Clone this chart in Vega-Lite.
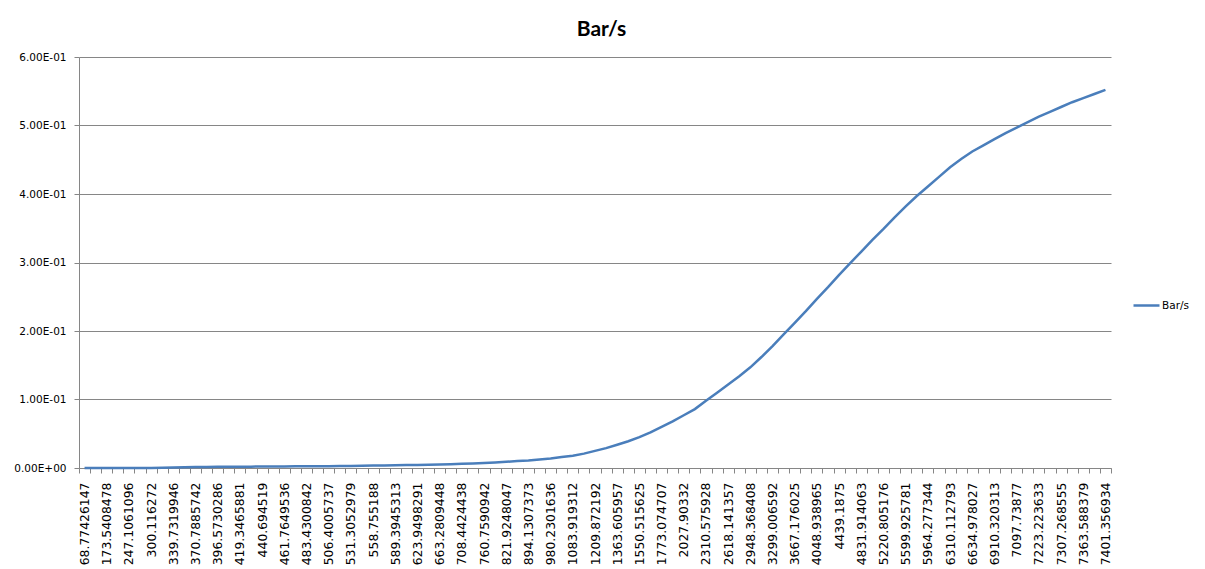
{
  "$schema": "https://vega.github.io/schema/vega-lite/v6.json",
  "autosize": "none",
  "width": 1032,
  "height": 411,
  "padding": {"left": 79, "top": 57, "right": 94, "bottom": 101},
  "background": "white",
  "title": {"text": "Bar/s", "font": "Lato", "fontSize": 21, "fontWeight": "bold", "color": "#000000", "anchor": "middle", "frame": "group", "baseline": "alphabetic", "offset": -4.5, "dx": 6.5},
  "config": {"view": {"stroke": null}},
  "data": {"values": [
    {"x": "68.77426147", "v": 0, "s": "Bar/s"},
    {"x": "128.4", "v": 0, "s": "Bar/s"},
    {"x": "173.5408478", "v": 0, "s": "Bar/s"},
    {"x": "212.3", "v": 0, "s": "Bar/s"},
    {"x": "247.1061096", "v": 0, "s": "Bar/s"},
    {"x": "275.2", "v": 0, "s": "Bar/s"},
    {"x": "300.116272", "v": 0, "s": "Bar/s"},
    {"x": "321.1", "v": 0.0003, "s": "Bar/s"},
    {"x": "339.7319946", "v": 0.0006, "s": "Bar/s"},
    {"x": "356.0", "v": 0.001, "s": "Bar/s"},
    {"x": "370.7885742", "v": 0.0014, "s": "Bar/s"},
    {"x": "384.2", "v": 0.0016, "s": "Bar/s"},
    {"x": "396.5730286", "v": 0.0017, "s": "Bar/s"},
    {"x": "408.1", "v": 0.0018, "s": "Bar/s"},
    {"x": "419.3465881", "v": 0.0019, "s": "Bar/s"},
    {"x": "430.1", "v": 0.002, "s": "Bar/s"},
    {"x": "440.694519", "v": 0.0021, "s": "Bar/s"},
    {"x": "451.2", "v": 0.0022, "s": "Bar/s"},
    {"x": "461.7649536", "v": 0.0023, "s": "Bar/s"},
    {"x": "472.5", "v": 0.0024, "s": "Bar/s"},
    {"x": "483.4300842", "v": 0.0025, "s": "Bar/s"},
    {"x": "494.7", "v": 0.0026, "s": "Bar/s"},
    {"x": "506.4005737", "v": 0.0027, "s": "Bar/s"},
    {"x": "518.6", "v": 0.0029, "s": "Bar/s"},
    {"x": "531.3052979", "v": 0.0031, "s": "Bar/s"},
    {"x": "544.7", "v": 0.0033, "s": "Bar/s"},
    {"x": "558.755188", "v": 0.0035, "s": "Bar/s"},
    {"x": "573.6", "v": 0.0037, "s": "Bar/s"},
    {"x": "589.3945313", "v": 0.004, "s": "Bar/s"},
    {"x": "606.2", "v": 0.0042, "s": "Bar/s"},
    {"x": "623.9498291", "v": 0.0045, "s": "Bar/s"},
    {"x": "643.1", "v": 0.0048, "s": "Bar/s"},
    {"x": "663.2809448", "v": 0.0052, "s": "Bar/s"},
    {"x": "685.3", "v": 0.0056, "s": "Bar/s"},
    {"x": "708.4424438", "v": 0.0061, "s": "Bar/s"},
    {"x": "733.9", "v": 0.0067, "s": "Bar/s"},
    {"x": "760.7590942", "v": 0.0074, "s": "Bar/s"},
    {"x": "790.2", "v": 0.0082, "s": "Bar/s"},
    {"x": "821.9248047", "v": 0.0091, "s": "Bar/s"},
    {"x": "856.8", "v": 0.0101, "s": "Bar/s"},
    {"x": "894.1307373", "v": 0.011, "s": "Bar/s"},
    {"x": "935.2", "v": 0.0125, "s": "Bar/s"},
    {"x": "980.2301636", "v": 0.014, "s": "Bar/s"},
    {"x": "1029.8", "v": 0.016, "s": "Bar/s"},
    {"x": "1083.919312", "v": 0.018, "s": "Bar/s"},
    {"x": "1144.6", "v": 0.021, "s": "Bar/s"},
    {"x": "1209.872192", "v": 0.025, "s": "Bar/s"},
    {"x": "1284.0", "v": 0.029, "s": "Bar/s"},
    {"x": "1363.605957", "v": 0.034, "s": "Bar/s"},
    {"x": "1454.1", "v": 0.039, "s": "Bar/s"},
    {"x": "1550.515625", "v": 0.045, "s": "Bar/s"},
    {"x": "1658.2", "v": 0.052, "s": "Bar/s"},
    {"x": "1773.074707", "v": 0.06, "s": "Bar/s"},
    {"x": "1897.1", "v": 0.068, "s": "Bar/s"},
    {"x": "2027.90332", "v": 0.077, "s": "Bar/s"},
    {"x": "2166.5", "v": 0.086, "s": "Bar/s"},
    {"x": "2310.575928", "v": 0.098, "s": "Bar/s"},
    {"x": "2462.3", "v": 0.11, "s": "Bar/s"},
    {"x": "2618.141357", "v": 0.122, "s": "Bar/s"},
    {"x": "2781.0", "v": 0.134, "s": "Bar/s"},
    {"x": "2948.368408", "v": 0.147, "s": "Bar/s"},
    {"x": "3121.6", "v": 0.162, "s": "Bar/s"},
    {"x": "3299.006592", "v": 0.178, "s": "Bar/s"},
    {"x": "3481.4", "v": 0.195, "s": "Bar/s"},
    {"x": "3667.176025", "v": 0.212, "s": "Bar/s"},
    {"x": "3856.5", "v": 0.229, "s": "Bar/s"},
    {"x": "4048.938965", "v": 0.247, "s": "Bar/s"},
    {"x": "4243.0", "v": 0.264, "s": "Bar/s"},
    {"x": "4439.1875", "v": 0.282, "s": "Bar/s"},
    {"x": "4635.6", "v": 0.299, "s": "Bar/s"},
    {"x": "4831.914063", "v": 0.316, "s": "Bar/s"},
    {"x": "5027.4", "v": 0.333, "s": "Bar/s"},
    {"x": "5220.805176", "v": 0.349, "s": "Bar/s"},
    {"x": "5411.7", "v": 0.366, "s": "Bar/s"},
    {"x": "5599.925781", "v": 0.382, "s": "Bar/s"},
    {"x": "5784.1", "v": 0.397, "s": "Bar/s"},
    {"x": "5964.277344", "v": 0.411, "s": "Bar/s"},
    {"x": "6140.2", "v": 0.425, "s": "Bar/s"},
    {"x": "6310.112793", "v": 0.439, "s": "Bar/s"},
    {"x": "6476.9", "v": 0.451, "s": "Bar/s"},
    {"x": "6634.978027", "v": 0.462, "s": "Bar/s"},
    {"x": "6781.5", "v": 0.471, "s": "Bar/s"},
    {"x": "6910.320313", "v": 0.48, "s": "Bar/s"},
    {"x": "7011.6", "v": 0.489, "s": "Bar/s"},
    {"x": "7097.73877", "v": 0.497, "s": "Bar/s"},
    {"x": "7166.2", "v": 0.505, "s": "Bar/s"},
    {"x": "7223.223633", "v": 0.513, "s": "Bar/s"},
    {"x": "7268.4", "v": 0.52, "s": "Bar/s"},
    {"x": "7307.268555", "v": 0.527, "s": "Bar/s"},
    {"x": "7337.9", "v": 0.534, "s": "Bar/s"},
    {"x": "7363.588379", "v": 0.54, "s": "Bar/s"},
    {"x": "7384.6", "v": 0.546, "s": "Bar/s"},
    {"x": "7401.356934", "v": 0.552, "s": "Bar/s"}
  ]},
  "mark": {"type": "line", "strokeWidth": 2.5},
  "encoding": {
    "x": {
      "field": "x", "type": "ordinal", "sort": null,
      "scale": {"type": "band", "paddingInner": 0, "paddingOuter": 0},
      "axis": {
        "title": null,
        "labelAngle": -90,
        "labelExpr": "isString(datum.value) && length(datum.value) >= 7 ? datum.value : ''",
        "labelOverlap": false,
        "labelFont": "DejaVu Sans",
        "labelFontSize": 12.4,
        "labelColor": "#000000",
        "labelPadding": 9,
        "tickBand": "extent",
        "tickSize": 5,
        "tickColor": "#868686",
        "domainColor": "#868686",
        "grid": false
      }
    },
    "y": {
      "field": "v", "type": "quantitative",
      "scale": {"domain": [0, 0.6], "nice": false, "zero": true},
      "axis": {
        "title": null,
        "values": [0, 0.1, 0.2, 0.3, 0.4, 0.5, 0.6],
        "labelExpr": "datum.value == 0 ? '0.00E+00' : format(datum.value * 10, '.2f') + 'E-01'",
        "labelFont": "DejaVu Sans",
        "labelFontSize": 10.5,
        "labelColor": "#000000",
        "labelPadding": 8,
        "tickSize": 5,
        "tickColor": "#868686",
        "domainColor": "#868686",
        "gridColor": "#868686",
        "gridWidth": 1
      }
    },
    "color": {
      "field": "s", "type": "nominal",
      "scale": {"range": ["#4A7EBB"]},
      "legend": {
        "title": null,
        "orient": "none",
        "legendX": 1053,
        "legendY": 234,
        "padding": 0,
        "symbolType": "stroke",
        "symbolSize": 676,
        "symbolStrokeWidth": 2.5,
        "labelFont": "DejaVu Sans",
        "labelFontSize": 10.5,
        "labelColor": "#000000",
        "labelOffset": 1
      }
    }
  }
}
